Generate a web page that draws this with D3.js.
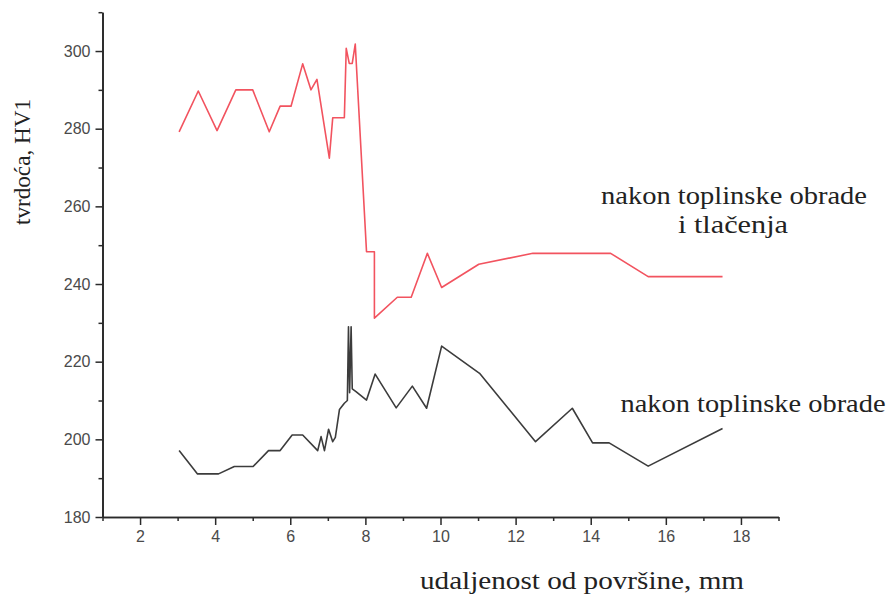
<!DOCTYPE html>
<html>
<head>
<meta charset="utf-8">
<script src="https://cdn.jsdelivr.net/npm/d3@7"></script>
<style>
  html, body { margin: 0; padding: 0; background: #fff; }
  svg { display: block; }
</style>
</head>
<body>
<svg id="chart" width="889" height="594"></svg>
<script>
// Distance from surface (mm) and hardness (HV1)
const treatedPressedX = [3.04, 3.55, 4.05, 4.55, 5.0, 5.44, 5.73, 6.02, 6.33, 6.55, 6.71, 7.04, 7.13, 7.44, 7.49, 7.57, 7.65, 7.73, 8.03, 8.24, 8.24, 8.85, 9.22, 9.65, 10.03, 11.02, 12.46, 14.53, 15.53, 17.51];
const treatedPressedY = [279.2, 289.7, 279.5, 290.0, 290.0, 279.2, 285.8, 285.8, 296.7, 290.0, 292.7, 272.4, 282.8, 282.8, 300.7, 296.8, 296.8, 301.8, 248.3, 248.3, 231.2, 236.6, 236.6, 247.9, 239.1, 245.1, 247.9, 247.9, 241.9, 241.9];

const treatedX = [3.04, 3.53, 4.09, 4.51, 5.01, 5.42, 5.73, 6.05, 6.33, 6.73, 6.82, 6.91, 7.02, 7.13, 7.2, 7.31, 7.44, 7.52, 7.55, 7.58, 7.62, 7.65, 7.75, 8.03, 8.26, 8.82, 9.25, 9.63, 10.03, 11.04, 12.53, 13.51, 14.05, 14.49, 15.53, 17.51];
const treatedY = [197.1, 191.1, 191.1, 193.0, 193.0, 197.1, 197.1, 201.1, 201.1, 197.1, 200.7, 197.1, 202.6, 199.4, 200.5, 207.7, 209.3, 210.0, 229.0, 212.0, 229.0, 213.0, 212.3, 210.1, 216.8, 208.1, 213.7, 208.0, 224.0, 217.0, 199.4, 208.0, 199.1, 199.1, 193.1, 202.8];

const xTicks = [2, 4, 6, 8, 10, 12, 14, 16, 18];
const xMinorTicks = [1, 3, 5, 7, 9, 11, 13, 15, 17, 19];
const yTicks = [180, 200, 220, 240, 260, 280, 300];
const yMinorTicks = [190, 210, 230, 250, 270, 290, 310];

const yLabel = "tvrdoća, HV1";
const xLabel = "udaljenost od površine, mm";
const labelPressed = ["nakon toplinske obrade", "i tlačenja"];
const labelTreated = "nakon toplinske obrade";

const svg = d3.select("#chart");
const x = d3.scaleLinear().domain([1, 19]).range([102.5, 778.5]);
const y = d3.scaleLinear().domain([180, 310]).range([517, 12.2]);

const axisColor = "#2a2a2a";
const tickFont = "'Liberation Sans', Arial, sans-serif";
const serif = "'Liberation Serif', 'Times New Roman', serif";

// X axis
const gx = svg.append("g").attr("transform", `translate(0,${y(180)})`);
gx.call(d3.axisBottom(x).tickValues(xMinorTicks).tickSize(4).tickSizeOuter(0).tickFormat(""));
gx.call(g => g.append("g").call(d3.axisBottom(x).tickValues(xTicks).tickSize(8).tickSizeOuter(0).tickPadding(6)));
gx.selectAll("path.domain").attr("stroke", axisColor).attr("stroke-width", 1.7);
gx.selectAll(".tick line").attr("stroke", axisColor).attr("stroke-width", 1.5);
gx.selectAll(".tick text").attr("font-family", tickFont).attr("font-size", 16).attr("fill", "#4a4a4a");

// Y axis
const gy = svg.append("g").attr("transform", `translate(${x(1)},0)`);
gy.call(d3.axisLeft(y).tickValues(yMinorTicks).tickSize(4).tickSizeOuter(0).tickFormat(""));
gy.call(g => g.append("g").call(d3.axisLeft(y).tickValues(yTicks).tickSize(7).tickSizeOuter(0).tickPadding(5)));
gy.selectAll("path.domain").attr("stroke", axisColor).attr("stroke-width", 1.7);
gy.selectAll(".tick line").attr("stroke", axisColor).attr("stroke-width", 1.5);
gy.selectAll(".tick text").attr("font-family", tickFont).attr("font-size", 16).attr("fill", "#4a4a4a");

// Lines
const line = d3.line().x(d => x(d[0])).y(d => y(d[1]));
const redData = treatedPressedX.map((v, i) => [v, treatedPressedY[i]]);
const blackData = treatedX.map((v, i) => [v, treatedY[i]]);

svg.append("path").datum(redData).attr("d", line)
  .attr("fill", "none").attr("stroke", "#f2535f").attr("stroke-width", 1.6).attr("stroke-linejoin", "round");
svg.append("path").datum(blackData).attr("d", line)
  .attr("fill", "none").attr("stroke", "#3c3c3c").attr("stroke-width", 1.6).attr("stroke-linejoin", "round");

// Axis titles
svg.append("text")
  .attr("transform", "translate(30,162) rotate(-90)")
  .attr("text-anchor", "middle")
  .attr("font-family", serif).attr("font-size", 24).attr("fill", "#222")
  .attr("textLength", 126).attr("lengthAdjust", "spacingAndGlyphs")
  .text(yLabel);

svg.append("text")
  .attr("x", 582).attr("y", 589)
  .attr("text-anchor", "middle")
  .attr("font-family", serif).attr("font-size", 26).attr("fill", "#222")
  .attr("textLength", 324).attr("lengthAdjust", "spacingAndGlyphs")
  .text(xLabel);

// Annotations
svg.append("text")
  .attr("x", 734).attr("y", 204)
  .attr("text-anchor", "middle")
  .attr("font-family", serif).attr("font-size", 26).attr("fill", "#222")
  .attr("textLength", 266).attr("lengthAdjust", "spacingAndGlyphs")
  .text(labelPressed[0]);
svg.append("text")
  .attr("x", 733).attr("y", 233)
  .attr("text-anchor", "middle")
  .attr("font-family", serif).attr("font-size", 26).attr("fill", "#222")
  .attr("textLength", 110).attr("lengthAdjust", "spacingAndGlyphs")
  .text(labelPressed[1]);
svg.append("text")
  .attr("x", 753).attr("y", 412)
  .attr("text-anchor", "middle")
  .attr("font-family", serif).attr("font-size", 26).attr("fill", "#222")
  .attr("textLength", 265).attr("lengthAdjust", "spacingAndGlyphs")
  .text(labelTreated);
</script>
</body>
</html>
